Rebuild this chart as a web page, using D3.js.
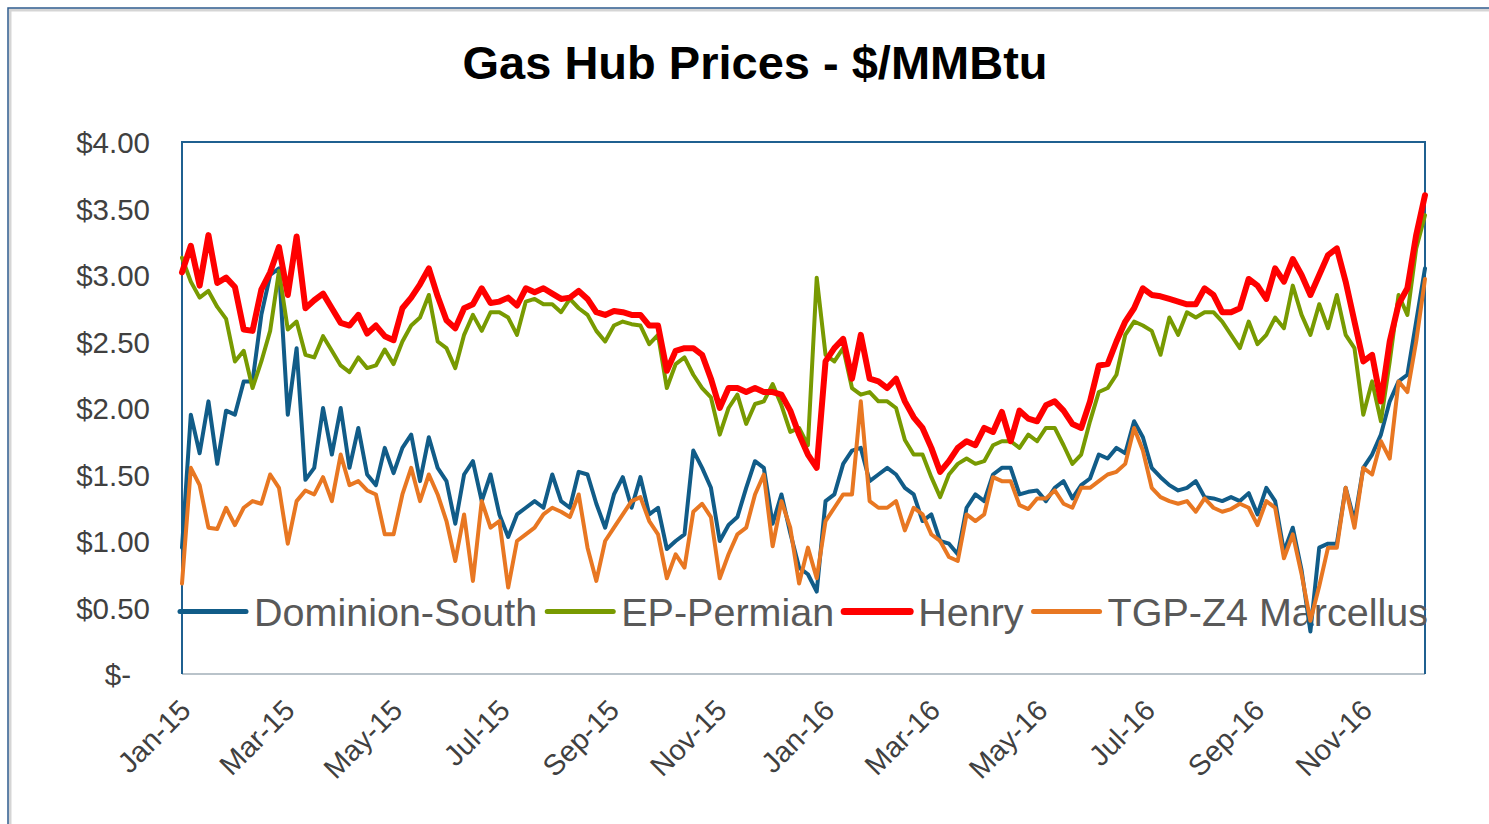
<!DOCTYPE html>
<html>
<head>
<meta charset="utf-8">
<script src="https://cdn.jsdelivr.net/npm/d3@7"></script>
<style>
  body { margin: 0; background: #fff; }
  svg { display: block; font-family: "Liberation Sans", Arial, sans-serif; }
</style>
</head>
<body>
<div id="chart"></div>
<script>
// Gas hub daily prices, sampled every 5 days from 1 Jan 2015 ($/MMBtu)
const startDate = new Date(2015, 0, 1);
const stepDays = 5;
const lastDay = 705;

const dominionSouth = [
  0.95, 1.95, 1.66, 2.05, 1.58, 1.98, 1.95, 2.20, 2.20, 2.70,
  3.00, 3.05, 1.95, 2.45, 1.46, 1.55, 2.00, 1.65, 2.00, 1.55,
  1.85, 1.50, 1.42, 1.70, 1.51, 1.70, 1.80, 1.45, 1.78, 1.55,
  1.45, 1.13, 1.50, 1.60, 1.30, 1.50, 1.20, 1.03, 1.20, 1.25,
  1.30, 1.25, 1.50, 1.30, 1.25, 1.52, 1.50, 1.28, 1.10, 1.35,
  1.48, 1.25, 1.48, 1.20, 1.25, 0.94, 1.00, 1.05, 1.68, 1.55,
  1.40, 1.00, 1.12, 1.18, 1.40, 1.60, 1.55, 1.13, 1.35, 1.06,
  0.80, 0.75, 0.62, 1.30, 1.35, 1.58, 1.68, 1.70, 1.45, 1.50,
  1.55, 1.50, 1.40, 1.35, 1.15, 1.20, 1.00, 0.98, 0.90, 1.25,
  1.35, 1.30, 1.50, 1.55, 1.55, 1.35, 1.37, 1.38, 1.30, 1.40,
  1.45, 1.32, 1.42, 1.47, 1.65, 1.62, 1.70, 1.66, 1.90, 1.78,
  1.55, 1.48, 1.42, 1.38, 1.40, 1.45, 1.33, 1.32, 1.30, 1.33,
  1.30, 1.36, 1.20, 1.40, 1.30, 0.92, 1.10, 0.78, 0.32, 0.95,
  0.98, 0.98, 1.40, 1.15, 1.55, 1.65, 1.80, 2.05, 2.20, 2.25,
  2.65, 3.05
];

const epPermian = [
  3.13, 2.95, 2.83, 2.88, 2.76, 2.67, 2.35, 2.43, 2.15, 2.35,
  2.58, 3.03, 2.59, 2.65, 2.40, 2.38, 2.54, 2.43, 2.32, 2.27,
  2.38, 2.30, 2.32, 2.44, 2.33, 2.50, 2.62, 2.68, 2.85, 2.50,
  2.45, 2.30, 2.55, 2.70, 2.58, 2.72, 2.72, 2.68, 2.55, 2.80,
  2.82, 2.78, 2.78, 2.72, 2.82, 2.75, 2.70, 2.58, 2.50, 2.62,
  2.65, 2.63, 2.62, 2.48, 2.55, 2.15, 2.33, 2.38, 2.25, 2.15,
  2.08, 1.80, 2.00, 2.10, 1.88, 2.03, 2.05, 2.18, 2.02, 1.82,
  1.85, 1.72, 2.98, 2.40, 2.35, 2.45, 2.15, 2.10, 2.12, 2.05,
  2.05, 2.00, 1.76, 1.65, 1.65, 1.48, 1.33, 1.50, 1.58, 1.62,
  1.58, 1.60, 1.72, 1.75, 1.75, 1.70, 1.80, 1.75, 1.85, 1.85,
  1.72, 1.58, 1.65, 1.90, 2.12, 2.15, 2.25, 2.55, 2.65, 2.62,
  2.58, 2.40, 2.68, 2.55, 2.72, 2.68, 2.72, 2.72, 2.65, 2.55,
  2.45, 2.65, 2.48, 2.55, 2.68, 2.60, 2.92, 2.70, 2.55, 2.78,
  2.60, 2.85, 2.55, 2.45, 1.95, 2.20, 1.90, 2.35, 2.85, 2.70,
  3.20, 3.45
];

const henry = [
  3.02, 3.22, 2.92, 3.30, 2.94, 2.98, 2.91, 2.59, 2.58, 2.89,
  3.02, 3.21, 2.85, 3.29, 2.75, 2.81, 2.86, 2.75, 2.64, 2.62,
  2.70, 2.56, 2.62, 2.54, 2.51, 2.75, 2.83, 2.93, 3.05, 2.84,
  2.66, 2.60, 2.75, 2.78, 2.90, 2.79, 2.80, 2.83, 2.77, 2.90,
  2.87, 2.90, 2.86, 2.82, 2.83, 2.88, 2.82, 2.72, 2.70, 2.73,
  2.72, 2.70, 2.70, 2.62, 2.62, 2.28, 2.43, 2.45, 2.45, 2.40,
  2.22, 2.00, 2.15, 2.15, 2.12, 2.15, 2.12, 2.12, 2.10, 1.98,
  1.80, 1.65, 1.55, 2.35, 2.45, 2.52, 2.22, 2.55, 2.22, 2.20,
  2.15, 2.22, 2.05, 1.93, 1.85, 1.70, 1.52, 1.60, 1.70, 1.75,
  1.72, 1.85, 1.82, 1.97, 1.75, 1.98, 1.92, 1.90, 2.02, 2.05,
  1.98, 1.88, 1.85, 2.05, 2.32, 2.33, 2.50, 2.65, 2.75, 2.90,
  2.85, 2.84, 2.82, 2.80, 2.78, 2.78, 2.90, 2.85, 2.72, 2.72,
  2.75, 2.97, 2.92, 2.82, 3.05, 2.95, 3.12, 3.00, 2.85, 3.00,
  3.15, 3.20, 2.95, 2.65, 2.35, 2.40, 2.05, 2.50, 2.78, 2.90,
  3.30, 3.60
];

const tgpMarcellus = [
  0.68, 1.55, 1.42, 1.10, 1.09, 1.25, 1.12, 1.25, 1.30, 1.28,
  1.50, 1.40, 0.98, 1.30, 1.38, 1.35, 1.48, 1.30, 1.65, 1.42,
  1.45, 1.38, 1.35, 1.05, 1.05, 1.35, 1.55, 1.30, 1.50, 1.35,
  1.15, 0.85, 1.20, 0.70, 1.30, 1.10, 1.15, 0.65, 1.00, 1.05,
  1.10, 1.20, 1.25, 1.22, 1.18, 1.35, 0.95, 0.70, 1.00, 1.10,
  1.20, 1.30, 1.33, 1.15, 1.05, 0.72, 0.90, 0.80, 1.22, 1.28,
  1.18, 0.72, 0.90, 1.05, 1.10, 1.35, 1.50, 0.96, 1.30, 1.10,
  0.68, 0.95, 0.72, 1.15, 1.25, 1.35, 1.35, 2.05, 1.30, 1.25,
  1.25, 1.30, 1.08, 1.25, 1.20, 1.05, 1.00, 0.88, 0.85, 1.20,
  1.15, 1.20, 1.48, 1.45, 1.45, 1.27, 1.24, 1.32, 1.32, 1.38,
  1.28, 1.25, 1.40, 1.40, 1.45, 1.50, 1.52, 1.58, 1.85, 1.68,
  1.40, 1.33, 1.30, 1.28, 1.30, 1.22, 1.32, 1.25, 1.22, 1.24,
  1.28, 1.25, 1.12, 1.30, 1.25, 0.87, 1.05, 0.75, 0.40, 0.66,
  0.95, 0.95, 1.40, 1.10, 1.55, 1.50, 1.75, 1.62, 2.20, 2.12,
  2.50, 2.97
];

const seriesNames = ["Dominion-South", "EP-Permian", "Henry", "TGP-Z4 Marcellus"];
const seriesValues = [dominionSouth, epPermian, henry, tgpMarcellus];
const seriesColors = ["#115C88", "#789A01", "#FF0000", "#E87722"];
const seriesWidths = [4, 4, 6, 4];
const yTicks = [0, 0.5, 1, 1.5, 2, 2.5, 3, 3.5, 4];

const dates = henry.map((d, i) => d3.timeDay.offset(startDate, i * stepDays));

const W = 1489, H = 824;
const margin = { top: 142, right: 64, bottom: 150, left: 182 };
const width = W - margin.left - margin.right;
const height = H - margin.top - margin.bottom;

const svg = d3.select("#chart").append("svg")
    .attr("width", W)
    .attr("height", H);

// outer chart frame (right and bottom sides run off the picture)
svg.append("rect")
    .attr("x", 10).attr("y", 10)
    .attr("width", W + 20).attr("height", H + 20)
    .attr("fill", "none").attr("stroke", "#D5D5D5").attr("stroke-width", 3);
svg.append("rect")
    .attr("x", 8).attr("y", 8)
    .attr("width", W + 20).attr("height", H + 20)
    .attr("fill", "none").attr("stroke", "#2F5C8F").attr("stroke-width", 1.5);

// title
svg.append("text")
    .attr("x", 755)
    .attr("y", 79)
    .attr("text-anchor", "middle")
    .attr("font-size", 47)
    .attr("font-weight", "bold")
    .attr("fill", "#000")
    .text("Gas Hub Prices - $/MMBtu");

const g = svg.append("g")
    .attr("transform", "translate(" + margin.left + "," + margin.top + ")");

const x = d3.scaleTime()
    .domain([startDate, d3.timeDay.offset(startDate, lastDay)])
    .range([0, width]);

const y = d3.scaleLinear()
    .domain([0, 4])
    .range([height, 0]);

// y axis labels
const yAxis = g.append("g")
    .call(d3.axisLeft(y).tickValues(yTicks).tickSize(0).tickPadding(32)
        .tickFormat(d => d === 0 ? "$-" : "$" + d.toFixed(2)));
yAxis.select(".domain").remove();
yAxis.selectAll("text")
    .attr("font-family", "Liberation Sans, Arial, sans-serif")
    .attr("font-size", 29.5)
    .attr("fill", "#404040")
    .attr("dy", "0.36em")
    .attr("dx", d => d === 0 ? -19 : 0);

// x axis labels
const xAxis = g.append("g")
    .attr("transform", "translate(0," + height + ")")
    .call(d3.axisBottom(x).ticks(d3.timeMonth.every(2)).tickSize(0)
        .tickFormat(d3.timeFormat("%b-%y")));
xAxis.select(".domain").remove();
xAxis.selectAll("text")
    .attr("font-family", "Liberation Sans, Arial, sans-serif")
    .attr("font-size", 29)
    .attr("fill", "#404040")
    .attr("text-anchor", "end")
    .attr("y", 0)
    .attr("dy", 0)
    .attr("transform", "translate(10,38) rotate(-45)");

// plot area border
g.append("line")
    .attr("x1", 0).attr("x2", width)
    .attr("y1", height).attr("y2", height)
    .attr("stroke", "#B9C3CA").attr("stroke-width", 2);
g.append("path")
    .attr("d", "M0," + height + "V0H" + width + "V" + height)
    .attr("fill", "none")
    .attr("stroke", "#1F6090")
    .attr("stroke-width", 2);

// legend (sits inside the plot, lines are drawn over it)
const legend = g.append("g")
    .attr("transform", "translate(-2," + y(0.47) + ")");
let lx = 0;
seriesNames.forEach((name, k) => {
    legend.append("line")
        .attr("x1", lx).attr("x2", lx + 66)
        .attr("y1", 0).attr("y2", 0)
        .attr("stroke", seriesColors[k])
        .attr("stroke-width", seriesWidths[k] + 1)
        .attr("stroke-linecap", "round");
    const t = legend.append("text")
        .attr("x", lx + 74)
        .attr("dy", "0.36em")
        .attr("font-size", 39.5)
        .attr("fill", "#595959")
        .text(name);
    lx += 74 + t.node().getComputedTextLength() + 10;
});

// series lines
const line = d3.line()
    .x((d, i) => x(dates[i]))
    .y(d => y(d));

seriesValues.forEach((vals, k) => {
    g.append("path")
        .datum(vals)
        .attr("fill", "none")
        .attr("stroke", seriesColors[k])
        .attr("stroke-width", seriesWidths[k])
        .attr("stroke-linejoin", "round")
        .attr("stroke-linecap", "round")
        .attr("d", line);
});
</script>
</body>
</html>
